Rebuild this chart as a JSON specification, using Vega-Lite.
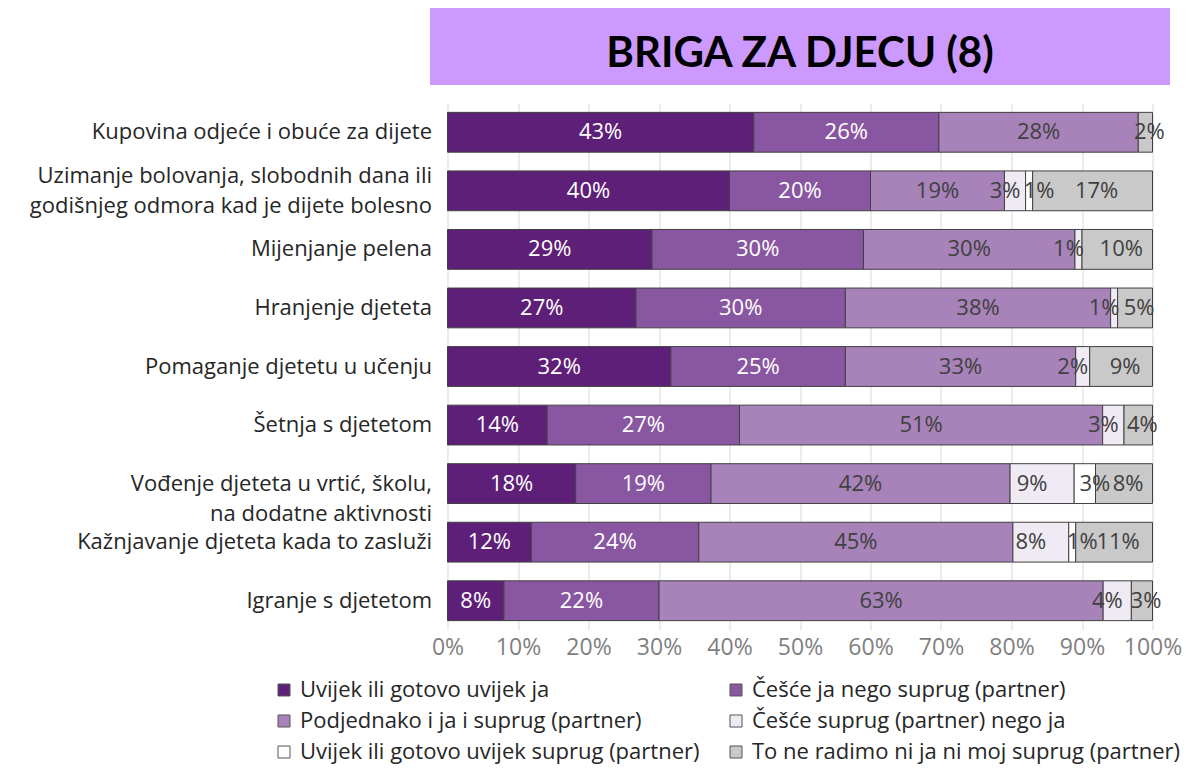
{
  "$schema": "https://vega.github.io/schema/vega-lite/v6.json",
  "padding": {"top": 8, "left": 29, "right": 4, "bottom": 4},
  "background": "white",
  "config": {
    "view": {"stroke": null},
    "font": "Open Sans"
  },
  "bounds": "flush",
  "center": true,
  "spacing": 18,
  "vconcat": [
    {
      "width": 740,
      "height": 77,
      "view": {"fill": "#CC99FF", "stroke": null},
      "data": {"values": [{"t": "BRIGA ZA DJECU (8)"}]},
      "mark": {"type": "text", "font": "Lato", "fontWeight": "bold", "fontSize": 42, "color": "#000000", "baseline": "middle", "align": "center", "dy": 7},
      "encoding": {"text": {"field": "t"}}
    },
    {
      "width": 705,
      "height": 527,
      "data": {"values": [
        {"c": "Kupovina odjeće i obuće za dijete", "s": "Uvijek ili gotovo uvijek ja", "k": 1, "v": 0.43},
        {"c": "Kupovina odjeće i obuće za dijete", "s": "Češće ja nego suprug (partner)", "k": 2, "v": 0.26},
        {"c": "Kupovina odjeće i obuće za dijete", "s": "Podjednako i ja i suprug (partner)", "k": 3, "v": 0.28},
        {"c": "Kupovina odjeće i obuće za dijete", "s": "To ne radimo ni ja ni moj suprug (partner)", "k": 6, "v": 0.02},
        {"c": "Uzimanje bolovanja, slobodnih dana ili godišnjeg odmora kad je dijete bolesno", "s": "Uvijek ili gotovo uvijek ja", "k": 1, "v": 0.40},
        {"c": "Uzimanje bolovanja, slobodnih dana ili godišnjeg odmora kad je dijete bolesno", "s": "Češće ja nego suprug (partner)", "k": 2, "v": 0.20},
        {"c": "Uzimanje bolovanja, slobodnih dana ili godišnjeg odmora kad je dijete bolesno", "s": "Podjednako i ja i suprug (partner)", "k": 3, "v": 0.19},
        {"c": "Uzimanje bolovanja, slobodnih dana ili godišnjeg odmora kad je dijete bolesno", "s": "Češće suprug (partner) nego ja", "k": 4, "v": 0.03},
        {"c": "Uzimanje bolovanja, slobodnih dana ili godišnjeg odmora kad je dijete bolesno", "s": "Uvijek ili gotovo uvijek suprug (partner)", "k": 5, "v": 0.01},
        {"c": "Uzimanje bolovanja, slobodnih dana ili godišnjeg odmora kad je dijete bolesno", "s": "To ne radimo ni ja ni moj suprug (partner)", "k": 6, "v": 0.17},
        {"c": "Mijenjanje pelena", "s": "Uvijek ili gotovo uvijek ja", "k": 1, "v": 0.29},
        {"c": "Mijenjanje pelena", "s": "Češće ja nego suprug (partner)", "k": 2, "v": 0.30},
        {"c": "Mijenjanje pelena", "s": "Podjednako i ja i suprug (partner)", "k": 3, "v": 0.30},
        {"c": "Mijenjanje pelena", "s": "Češće suprug (partner) nego ja", "k": 4, "v": 0.01},
        {"c": "Mijenjanje pelena", "s": "To ne radimo ni ja ni moj suprug (partner)", "k": 6, "v": 0.10},
        {"c": "Hranjenje djeteta", "s": "Uvijek ili gotovo uvijek ja", "k": 1, "v": 0.27},
        {"c": "Hranjenje djeteta", "s": "Češće ja nego suprug (partner)", "k": 2, "v": 0.30},
        {"c": "Hranjenje djeteta", "s": "Podjednako i ja i suprug (partner)", "k": 3, "v": 0.38},
        {"c": "Hranjenje djeteta", "s": "Češće suprug (partner) nego ja", "k": 4, "v": 0.01},
        {"c": "Hranjenje djeteta", "s": "To ne radimo ni ja ni moj suprug (partner)", "k": 6, "v": 0.05},
        {"c": "Pomaganje djetetu u učenju", "s": "Uvijek ili gotovo uvijek ja", "k": 1, "v": 0.32},
        {"c": "Pomaganje djetetu u učenju", "s": "Češće ja nego suprug (partner)", "k": 2, "v": 0.25},
        {"c": "Pomaganje djetetu u učenju", "s": "Podjednako i ja i suprug (partner)", "k": 3, "v": 0.33},
        {"c": "Pomaganje djetetu u učenju", "s": "Češće suprug (partner) nego ja", "k": 4, "v": 0.02},
        {"c": "Pomaganje djetetu u učenju", "s": "To ne radimo ni ja ni moj suprug (partner)", "k": 6, "v": 0.09},
        {"c": "Šetnja s djetetom", "s": "Uvijek ili gotovo uvijek ja", "k": 1, "v": 0.14},
        {"c": "Šetnja s djetetom", "s": "Češće ja nego suprug (partner)", "k": 2, "v": 0.27},
        {"c": "Šetnja s djetetom", "s": "Podjednako i ja i suprug (partner)", "k": 3, "v": 0.51},
        {"c": "Šetnja s djetetom", "s": "Češće suprug (partner) nego ja", "k": 4, "v": 0.03},
        {"c": "Šetnja s djetetom", "s": "To ne radimo ni ja ni moj suprug (partner)", "k": 6, "v": 0.04},
        {"c": "Vođenje djeteta u vrtić, školu, na dodatne aktivnosti", "s": "Uvijek ili gotovo uvijek ja", "k": 1, "v": 0.18},
        {"c": "Vođenje djeteta u vrtić, školu, na dodatne aktivnosti", "s": "Češće ja nego suprug (partner)", "k": 2, "v": 0.19},
        {"c": "Vođenje djeteta u vrtić, školu, na dodatne aktivnosti", "s": "Podjednako i ja i suprug (partner)", "k": 3, "v": 0.42},
        {"c": "Vođenje djeteta u vrtić, školu, na dodatne aktivnosti", "s": "Češće suprug (partner) nego ja", "k": 4, "v": 0.09},
        {"c": "Vođenje djeteta u vrtić, školu, na dodatne aktivnosti", "s": "Uvijek ili gotovo uvijek suprug (partner)", "k": 5, "v": 0.03},
        {"c": "Vođenje djeteta u vrtić, školu, na dodatne aktivnosti", "s": "To ne radimo ni ja ni moj suprug (partner)", "k": 6, "v": 0.08},
        {"c": "Kažnjavanje djeteta kada to zasluži", "s": "Uvijek ili gotovo uvijek ja", "k": 1, "v": 0.12},
        {"c": "Kažnjavanje djeteta kada to zasluži", "s": "Češće ja nego suprug (partner)", "k": 2, "v": 0.24},
        {"c": "Kažnjavanje djeteta kada to zasluži", "s": "Podjednako i ja i suprug (partner)", "k": 3, "v": 0.45},
        {"c": "Kažnjavanje djeteta kada to zasluži", "s": "Češće suprug (partner) nego ja", "k": 4, "v": 0.08},
        {"c": "Kažnjavanje djeteta kada to zasluži", "s": "Uvijek ili gotovo uvijek suprug (partner)", "k": 5, "v": 0.01},
        {"c": "Kažnjavanje djeteta kada to zasluži", "s": "To ne radimo ni ja ni moj suprug (partner)", "k": 6, "v": 0.11},
        {"c": "Igranje s djetetom", "s": "Uvijek ili gotovo uvijek ja", "k": 1, "v": 0.08},
        {"c": "Igranje s djetetom", "s": "Češće ja nego suprug (partner)", "k": 2, "v": 0.22},
        {"c": "Igranje s djetetom", "s": "Podjednako i ja i suprug (partner)", "k": 3, "v": 0.63},
        {"c": "Igranje s djetetom", "s": "Češće suprug (partner) nego ja", "k": 4, "v": 0.04},
        {"c": "Igranje s djetetom", "s": "To ne radimo ni ja ni moj suprug (partner)", "k": 6, "v": 0.03}
      ]},
      "encoding": {
        "y": {
          "field": "c", "type": "nominal",
          "sort": ["Kupovina odjeće i obuće za dijete", "Uzimanje bolovanja, slobodnih dana ili godišnjeg odmora kad je dijete bolesno", "Mijenjanje pelena", "Hranjenje djeteta", "Pomaganje djetetu u učenju", "Šetnja s djetetom", "Vođenje djeteta u vrtić, školu, na dodatne aktivnosti", "Kažnjavanje djeteta kada to zasluži", "Igranje s djetetom"],
          "scale": {"paddingInner": 0.32, "paddingOuter": 0.16},
          "axis": {
            "title": null, "domain": false, "ticks": false, "labelPadding": 16, "labelLimit": 0,
            "labelFontSize": 22, "labelColor": "#262626", "labelLineHeight": 30,
            "labelOffset": {"condition": {"test": "datum.value == 'Uzimanje bolovanja, slobodnih dana ili godišnjeg odmora kad je dijete bolesno'", "value": -15}, "value": 0},
            "labelExpr": "datum.label == 'Uzimanje bolovanja, slobodnih dana ili godišnjeg odmora kad je dijete bolesno' ? ['Uzimanje bolovanja, slobodnih dana ili', 'godišnjeg odmora kad je dijete bolesno'] : datum.label == 'Vođenje djeteta u vrtić, školu, na dodatne aktivnosti' ? ['Vođenje djeteta u vrtić, školu,', 'na dodatne aktivnosti'] : datum.label"
          }
        },
        "x": {
          "field": "v", "type": "quantitative", "stack": "normalize",
          "scale": {"domain": [0, 1], "nice": false},
          "axis": {
            "title": null, "format": ".0%", "values": [0, 0.1, 0.2, 0.3, 0.4, 0.5, 0.6, 0.7, 0.8, 0.9, 1],
            "domain": false, "ticks": false, "grid": true, "gridColor": "#d9d9d9",
            "labelOverlap": false, "labelFlush": false,
            "labelFontSize": 23, "labelColor": "#7f7f7f", "labelPadding": 6
          }
        },
        "order": {"field": "k", "type": "quantitative"}
      },
      "layer": [
        {
          "mark": {"type": "bar", "stroke": "#404040", "strokeWidth": 1},
          "encoding": {
            "color": {
              "field": "s", "type": "nominal",
              "scale": {
                "domain": ["Uvijek ili gotovo uvijek ja", "Češće ja nego suprug (partner)", "Podjednako i ja i suprug (partner)", "Češće suprug (partner) nego ja", "Uvijek ili gotovo uvijek suprug (partner)", "To ne radimo ni ja ni moj suprug (partner)"],
                "range": ["#5e1f78", "#8957a1", "#a783b9", "#efeaf3", "#ffffff", "#c9c9c9"]
              },
              "legend": {
                "title": null, "orient": "none", "legendX": -157, "legendY": 671,
                "direction": "horizontal", "columns": 2, "columnPadding": 25, "rowPadding": 9,
                "symbolType": "square", "symbolSize": 144, "symbolStrokeColor": "#555555", "symbolStrokeWidth": 1,
                "symbolOpacity": 1, "labelFontSize": 22, "labelColor": "#262626", "labelLimit": 0, "labelOffset": 5
              }
            }
          }
        },
        {
          "mark": {"type": "text", "fontSize": 22, "baseline": "middle", "align": "center",
                   "dx": {"expr": "datum.k == 4 ? -10 : datum.k == 5 ? 10 : datum.k == 6 ? 4 : 0"}},
          "encoding": {
            "x": {"field": "v", "type": "quantitative", "stack": "normalize", "bandPosition": 0.5},
            "text": {"field": "v", "type": "quantitative", "format": ".0%"},
            "color": {"condition": {"test": "datum.k <= 2", "value": "#ffffff"}, "value": "#404040"}
          }
        }
      ]
    }
  ]
}
